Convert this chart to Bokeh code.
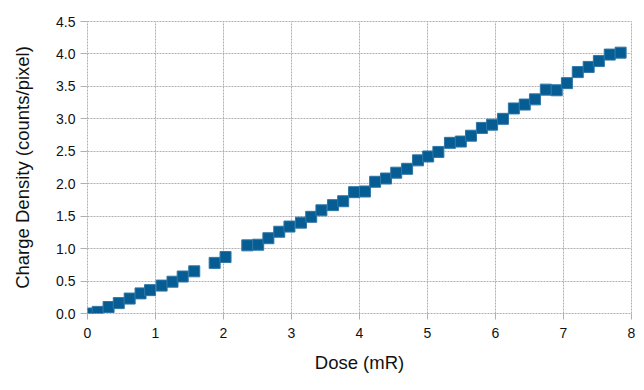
from bokeh.plotting import figure
from bokeh.models import Range1d, FixedTicker, NumeralTickFormatter
from bokeh.embed import file_html
from bokeh.resources import INLINE

dose = [0.0, 0.15, 0.31, 0.46, 0.62, 0.78, 0.92, 1.09, 1.25, 1.40, 1.57, 1.87, 2.03,
        2.35, 2.51, 2.66, 2.82, 2.97, 3.14, 3.29, 3.44, 3.61, 3.76, 3.92, 4.08, 4.23,
        4.39, 4.54, 4.70, 4.86, 5.01, 5.16, 5.33, 5.49, 5.64, 5.80, 5.95, 6.11, 6.27,
        6.43, 6.58, 6.74, 6.90, 7.05, 7.21, 7.37, 7.52, 7.68, 7.84]
density = [0.0, 0.025, 0.10, 0.16, 0.23, 0.31, 0.36, 0.43, 0.49, 0.57, 0.65, 0.78, 0.87,
           1.05, 1.06, 1.16, 1.26, 1.34, 1.40, 1.49, 1.59, 1.67, 1.73, 1.87, 1.88, 2.03,
           2.08, 2.17, 2.23, 2.36, 2.42, 2.49, 2.63, 2.65, 2.74, 2.86, 2.91, 3.00, 3.16,
           3.22, 3.30, 3.45, 3.44, 3.55, 3.72, 3.80, 3.89, 3.99, 4.02]
x_ticks = [0, 1, 2, 3, 4, 5, 6, 7, 8]
y_ticks = [0.0, 0.5, 1.0, 1.5, 2.0, 2.5, 3.0, 3.5, 4.0, 4.5]

p = figure(width=642, height=388, output_backend="svg", toolbar_location=None,
           x_range=Range1d(0, 8), y_range=Range1d(0, 4.5),
           min_border_left=87, min_border_right=11, min_border_top=21, min_border_bottom=75)
p.background_fill_color = "white"
p.border_fill_color = "white"
p.outline_line_color = "#b0b0b0"
p.outline_line_dash = "2 1"

grid_color = "#b0b0b0"
for g in (p.xgrid[0], p.ygrid[0]):
    g.grid_line_color = grid_color
    g.grid_line_dash = "2 1"
    g.grid_line_width = 1

p.xaxis.ticker = FixedTicker(ticks=x_ticks)
p.yaxis.ticker = FixedTicker(ticks=y_ticks)
p.yaxis.formatter = NumeralTickFormatter(format="0.0")

for ax in (p.xaxis[0], p.yaxis[0]):
    ax.axis_line_color = None
    ax.major_tick_line_color = grid_color
    ax.major_tick_in = 0
    ax.minor_tick_line_color = None
    ax.major_label_text_font = "Liberation Sans"
    ax.major_label_text_font_size = "14px"
    ax.major_label_text_color = "#111111"
    ax.axis_label_text_font = "Liberation Sans"
    ax.axis_label_text_font_size = "18.5px"
    ax.axis_label_text_font_style = "normal"
    ax.axis_label_text_color = "#111111"

p.xaxis.axis_label = "Dose (mR)"
p.yaxis.axis_label = "Charge Density (counts/pixel)"
p.xaxis.major_tick_out = 6
p.yaxis.major_tick_out = 7
p.xaxis.major_label_standoff = 8
p.yaxis.major_label_standoff = 5
p.xaxis.axis_label_standoff = 11
p.yaxis.axis_label_standoff = 20

p.scatter(dose, density, marker="square", size=11,
          fill_color="#065d94", line_color="#2f76a6", line_width=1)

open("out.html", "w").write(file_html(p, INLINE))
